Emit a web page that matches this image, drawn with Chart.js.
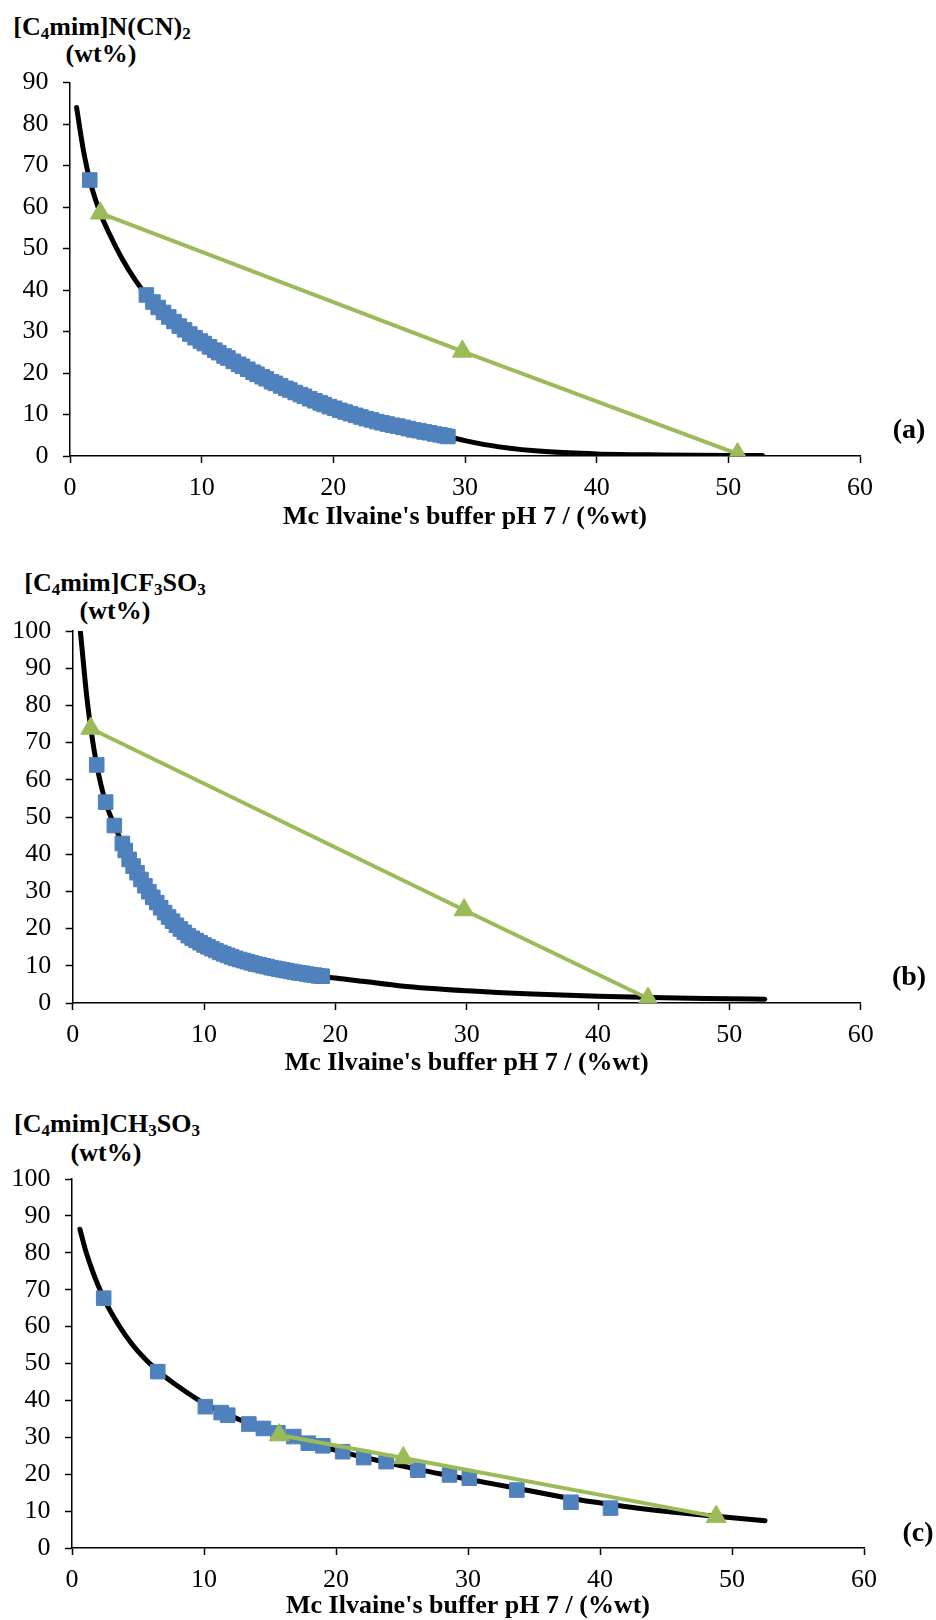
<!DOCTYPE html>
<html>
<head>
<meta charset="utf-8">
<script src="https://cdn.jsdelivr.net/npm/chart.js@4.4.1/dist/chart.umd.min.js"></script>
<style>
  html, body { margin: 0; padding: 0; background: #fff; }
  body { width: 936px; height: 1620px; position: relative; overflow: hidden; font-family: 'Liberation Serif', 'Times New Roman', serif; color: #000; }
  canvas { position: absolute; left: 0; }
  .ytitle { position: absolute; font-weight: bold; font-size: 26px; line-height: 26px; white-space: nowrap; transform: translateX(-50%); }
  .ytitle sub { font-size: 17px; line-height: 0; vertical-align: baseline; position: relative; top: 4px; }
  .panel { position: absolute; font-weight: bold; font-size: 28px; line-height: 28px; white-space: nowrap; transform: translateX(-50%); }
</style>
</head>
<body>

<div class="ytitle" style="left:102px; top:14px;">[C<sub>4</sub>mim]N(CN)<sub>2</sub></div>
<div class="ytitle" style="left:101px; top:41px;">(wt%)</div>
<canvas id="chart-a" width="936" height="540" style="top:0px;"></canvas>
<div class="panel" style="left:909px; top:415px;">(a)</div>

<div class="ytitle" style="left:115px; top:570px;">[C<sub>4</sub>mim]CF<sub>3</sub>SO<sub>3</sub></div>
<div class="ytitle" style="left:115px; top:598px;">(wt%)</div>
<canvas id="chart-b" width="936" height="547" style="top:540px;"></canvas>
<div class="panel" style="left:909px; top:962px;">(b)</div>

<div class="ytitle" style="left:107px; top:1111px;">[C<sub>4</sub>mim]CH<sub>3</sub>SO<sub>3</sub></div>
<div class="ytitle" style="left:106px; top:1140px;">(wt%)</div>
<canvas id="chart-c" width="936" height="552" style="top:1080px;"></canvas>
<div class="panel" style="left:918px; top:1518px;">(c)</div>

<script>
// ------------------------------ datos ------------------------------//

const xTitle = "Mc Ilvaine's buffer pH 7 / (%wt)";

// (a) [C4mim]N(CN)2
const aCurveX = [0.5, 1.0, 1.5, 2.3, 3.0, 4.0, 5.0, 5.8, 6.5, 7.1, 7.7, 8.35, 9.1, 9.9, 10.6, 11.4, 12.2, 13.2, 14.2, 15.2, 16.5, 17.7, 19.2, 20.8, 22.3, 23.8, 25.3, 26.8, 28.7, 30.0, 32.6, 36.4, 40.0, 45.0, 50.0, 52.6];
const aCurveY = [84, 74, 66.5, 58.5, 53.5, 47.3, 42.2, 38.8, 36.4, 34.6, 32.9, 31.2, 29.4, 27.7, 26.3, 24.7, 23.2, 21.4, 19.7, 18.1, 16.2, 14.5, 12.5, 10.7, 9.2, 7.9, 6.9, 5.9, 4.7, 3.7, 2.2, 1.0, 0.5, 0.25, 0.12, 0.1];
const aSquareX = [1.5, 5.8, 6.3, 6.7, 7.1, 7.5, 7.9, 8.3, 8.7, 9.1, 9.5, 9.9, 10.2, 10.6, 11.0, 11.3, 11.7, 12.0, 12.4, 12.8, 13.1, 13.5, 13.9, 14.2, 14.6, 14.9, 15.3, 15.6, 16.0, 16.4, 16.7, 17.1, 17.5, 17.8, 18.2, 18.6, 19.0, 19.3, 19.7, 20.1, 20.5, 20.9, 21.3, 21.7, 22.1, 22.5, 22.9, 23.3, 23.7, 24.1, 24.5, 24.9, 25.3, 25.7, 26.1, 26.5, 26.9, 27.3, 27.7, 28.1, 28.4, 28.7];
const aSquareY = [66.5, 38.8, 37.1, 35.8, 34.6, 33.5, 32.4, 31.3, 30.4, 29.4, 28.5, 27.7, 27.1, 26.3, 25.5, 24.9, 24.1, 23.6, 22.8, 22.1, 21.6, 20.9, 20.2, 19.7, 19.1, 18.6, 17.9, 17.5, 16.9, 16.3, 15.9, 15.3, 14.8, 14.4, 13.8, 13.3, 12.8, 12.4, 11.9, 11.5, 11.0, 10.6, 10.2, 9.8, 9.4, 9.0, 8.7, 8.3, 8.0, 7.7, 7.4, 7.2, 6.9, 6.6, 6.3, 6.1, 5.8, 5.6, 5.3, 5.1, 4.9, 4.7];
const aTieX = [2.3, 29.8, 50.7];
const aTieY = [58.5, 25.2, 0.5];

// (b) [C4mim]CF3SO3
const bCurveX = [0.53, 0.8, 1.05, 1.37, 1.83, 2.5, 3.2, 3.8, 4.3, 4.9, 5.5, 6.1, 6.7, 7.3, 7.9, 8.8, 10.0, 11.2, 12.4, 13.9, 15.4, 16.9, 18.4, 20.0, 22.4, 25.0, 30.0, 35.0, 40.0, 45.0, 50.0, 52.7];
const bCurveY = [102, 92, 83, 74, 64, 54, 47.6, 42.6, 38.6, 35.0, 31.5, 28.4, 25.6, 23.1, 20.9, 18.1, 15.6, 13.6, 12.0, 10.5, 9.3, 8.3, 7.5, 6.7, 5.7, 4.6, 3.3, 2.4, 1.8, 1.4, 1.15, 1.0];
const bSquareX = [1.83, 2.51, 3.17, 3.78, 4.0, 4.3, 4.6, 4.9, 5.2, 5.5, 5.8, 6.1, 6.4, 6.7, 7.0, 7.3, 7.6, 7.9, 8.2, 8.5, 8.8, 9.1, 9.4, 9.7, 10.0, 10.3, 10.6, 10.9, 11.2, 11.5, 11.8, 12.1, 12.4, 12.7, 13.0, 13.3, 13.6, 13.9, 14.2, 14.5, 14.8, 15.1, 15.4, 15.7, 16.0, 16.3, 16.6, 16.9, 17.2, 17.5, 17.8, 18.1, 18.4, 18.7, 19.0];
const bSquareY = [64.0, 54.0, 47.7, 42.9, 41.0, 38.6, 36.8, 35.0, 33.2, 31.5, 29.9, 28.4, 27.0, 25.6, 24.3, 23.1, 22.0, 20.9, 19.9, 19.0, 18.1, 17.4, 16.8, 16.2, 15.6, 15.1, 14.6, 14.1, 13.6, 13.2, 12.8, 12.4, 12.0, 11.7, 11.4, 11.1, 10.8, 10.5, 10.3, 10.0, 9.8, 9.5, 9.3, 9.1, 8.9, 8.7, 8.5, 8.3, 8.1, 8.0, 7.8, 7.6, 7.5, 7.3, 7.2];
const bTieX = [1.37, 29.8, 43.8];
const bTieY = [73.8, 25.0, 1.2];

// (c) [C4mim]CH3SO3
const cCurveX = [0.6, 1.0, 1.5, 2.0, 2.4, 3.0, 4.0, 5.0, 6.5, 8.0, 10.1, 11.8, 13.4, 15.6, 17.9, 20.5, 22.1, 23.8, 26.2, 28.6, 30.2, 33.7, 37.8, 40.8, 44.0, 48.8, 52.5];
const cCurveY = [86.4, 81.0, 75.6, 71.0, 67.8, 63.6, 57.9, 53.3, 48.0, 43.9, 39.0, 36.2, 33.7, 30.9, 28.5, 26.0, 24.6, 23.2, 21.3, 19.6, 18.5, 16.2, 13.4, 11.8, 10.3, 8.6, 7.4];
const cSquareX = [2.4, 6.5, 10.1, 11.3, 11.8, 13.4, 14.5, 15.6, 16.8, 17.9, 19.0, 20.5, 22.1, 23.8, 26.2, 28.6, 30.1, 33.7, 37.8, 40.8];
const cSquareY = [67.7, 47.8, 38.3, 36.7, 36.0, 33.6, 32.4, 31.2, 30.2, 28.4, 27.7, 26.1, 24.5, 23.4, 21.1, 19.8, 18.9, 15.7, 12.4, 10.8];
const cTieX = [15.7, 25.1, 48.8];
const cTieY = [30.6, 24.4, 8.5];

const BLUE = '#4F81BD';
const GREEN = '#9BBB59';

Chart.defaults.font.family = "'Liberation Serif', 'Times New Roman', serif";
Chart.defaults.color = '#000';

function toPoints(xs, ys) {
    return xs.map((x, i) => ({ x: x, y: ys[i] }));
}

//------------------------------- un grafico por panel -------------------------------//
function makeChart(canvasId, panel) {

    const axisGrid = {
        drawOnChartArea: false,
        drawTicks: true,
        tickLength: 7,
        tickColor: '#000',
        tickWidth: 1.5
    };
    const axisBorder = { display: true, color: '#000', width: 1.5 };

    const config = {
        type: 'scatter',
        data: {
            datasets: [
                {
                    label: 'tie line',
                    data: toPoints(panel.tieX, panel.tieY),
                    showLine: true,
                    borderColor: GREEN,
                    borderWidth: 4,
                    pointStyle: 'triangle',
                    pointRadius: 11.5,
                    pointBackgroundColor: GREEN,
                    pointBorderColor: GREEN,
                    pointBorderWidth: 1
                },
                {
                    label: 'experimental',
                    data: toPoints(panel.squareX, panel.squareY),
                    showLine: false,
                    pointStyle: 'rect',
                    pointRadius: 10.3,
                    pointBackgroundColor: BLUE,
                    pointBorderColor: BLUE,
                    pointBorderWidth: 1
                },
                {
                    label: 'fit',
                    data: toPoints(panel.curveX, panel.curveY),
                    showLine: true,
                    borderColor: '#000',
                    borderWidth: 5,
                    borderCapStyle: 'round',
                    pointRadius: 0,
                    cubicInterpolationMode: 'monotone'
                }
            ]
        },
        options: {
            responsive: false,
            animation: false,
            devicePixelRatio: 1,
            layout: { padding: { left: 0, top: panel.padTop, right: panel.padRight, bottom: 0 } },
            plugins: {
                legend: { display: false },
                tooltip: { enabled: false }
            },
            scales: {
                x: {
                    type: 'linear',
                    min: 0,
                    max: 60,
                    ticks: { stepSize: 10, padding: 9.5, autoSkip: false, font: { size: 26 } },
                    grid: axisGrid,
                    border: axisBorder,
                    title: {
                        display: true,
                        text: xTitle,
                        font: { size: 26, weight: 'bold' },
                        padding: { top: 0, bottom: panel.titlePad }
                    },
                    afterFit: scale => { scale.height = 84; }
                },
                y: {
                    type: 'linear',
                    min: 0,
                    max: panel.yMax,
                    ticks: { stepSize: 10, padding: 14.5, autoSkip: false, font: { size: 26 } },
                    grid: axisGrid,
                    border: axisBorder,
                    afterFit: scale => { scale.width = panel.yWidth; }
                }
            }
        }
    };

    new Chart(document.getElementById(canvasId), config);
}

makeChart('chart-a', { curveX: aCurveX, curveY: aCurveY, squareX: aSquareX, squareY: aSquareY, tieX: aTieX, tieY: aTieY, yMax: 90, padTop: 82.5, padRight: 76, yWidth: 70, titlePad: 7.2 });
makeChart('chart-b', { curveX: bCurveX, curveY: bCurveY, squareX: bSquareX, squareY: bSquareY, tieX: bTieX, tieY: bTieY, yMax: 100, padTop: 91, padRight: 75.3, yWidth: 72.7, titlePad: 8.2 });
makeChart('chart-c', { curveX: cCurveX, curveY: cCurveY, squareX: cSquareX, squareY: cSquareY, tieX: cTieX, tieY: cTieY, yMax: 100, padTop: 99, padRight: 72, yWidth: 72, titlePad: 10.2 });
</script>
</body>
</html>
